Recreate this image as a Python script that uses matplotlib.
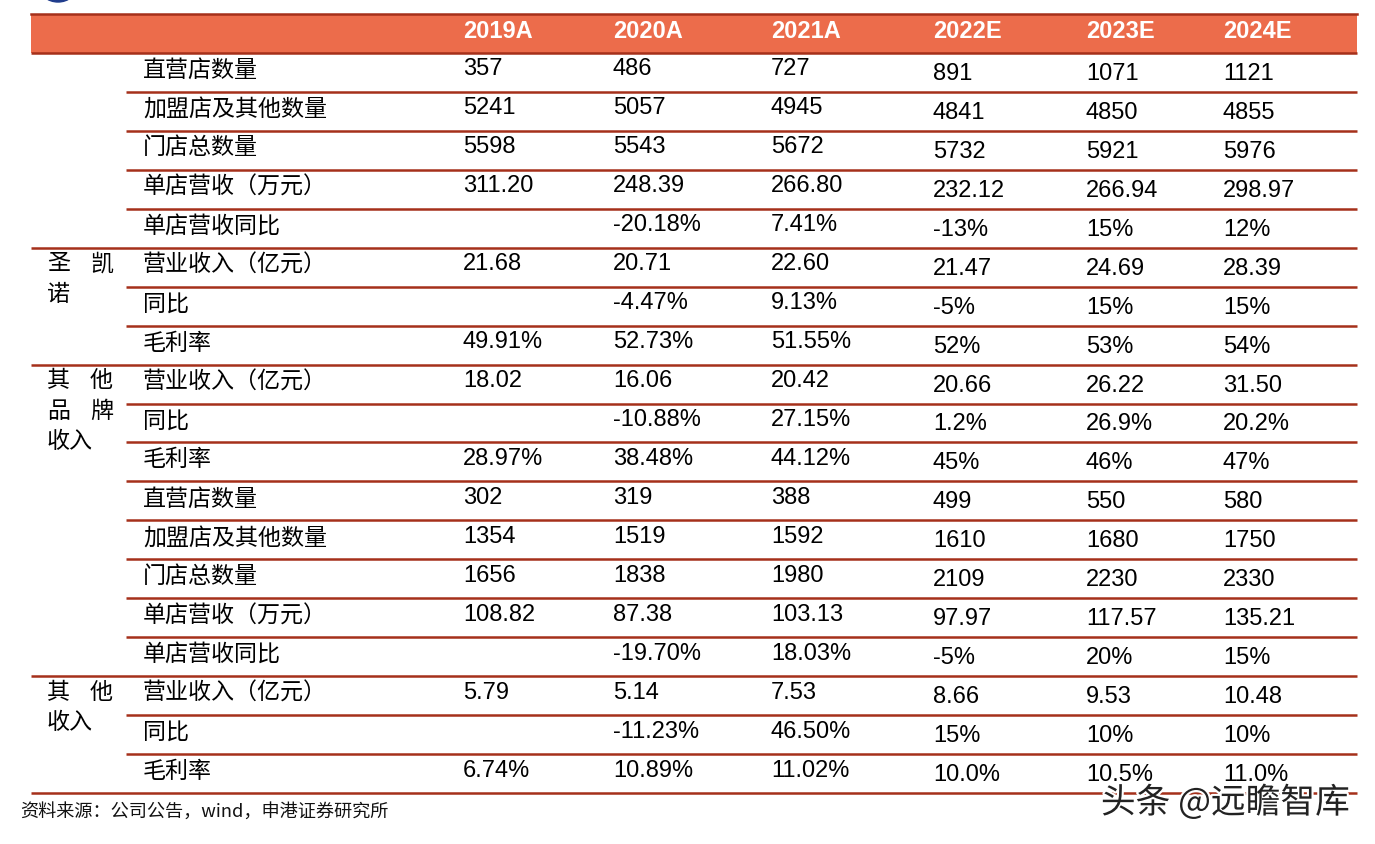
import matplotlib.pyplot as plt
from matplotlib.patches import Rectangle, Ellipse
import matplotlib.patheffects as pe

plt.rcParams['font.family'] = ['Liberation Sans', 'Noto Sans CJK SC', 'DejaVu Sans']

years = ['2019A', '2020A', '2021A', '2022E', '2023E', '2024E']

row_labels = ['直营店数量', '加盟店及其他数量', '门店总数量', '单店营收（万元）', '单店营收同比',
              '营业收入（亿元）', '同比', '毛利率',
              '营业收入（亿元）', '同比', '毛利率', '直营店数量', '加盟店及其他数量',
              '门店总数量', '单店营收（万元）', '单店营收同比',
              '营业收入（亿元）', '同比', '毛利率']

# group label lines (text per line) and the row where each group starts
group_labels = [[], [('圣', '凯'), ('诺',)], [('其', '他'), ('品', '牌'), ('收入',)], [('其', '他'), ('收入',)]]
group_start = [0, 5, 8, 16]

brand_main = [['357', '486', '727', '891', '1071', '1121'],
              ['5241', '5057', '4945', '4841', '4850', '4855'],
              ['5598', '5543', '5672', '5732', '5921', '5976'],
              ['311.20', '248.39', '266.80', '232.12', '266.94', '298.97'],
              ['', '-20.18%', '7.41%', '-13%', '15%', '12%']]
shengkainuo = [['21.68', '20.71', '22.60', '21.47', '24.69', '28.39'],
               ['', '-4.47%', '9.13%', '-5%', '15%', '15%'],
               ['49.91%', '52.73%', '51.55%', '52%', '53%', '54%']]
other_brands = [['18.02', '16.06', '20.42', '20.66', '26.22', '31.50'],
                ['', '-10.88%', '27.15%', '1.2%', '26.9%', '20.2%'],
                ['28.97%', '38.48%', '44.12%', '45%', '46%', '47%'],
                ['302', '319', '388', '499', '550', '580'],
                ['1354', '1519', '1592', '1610', '1680', '1750'],
                ['1656', '1838', '1980', '2109', '2230', '2330'],
                ['108.82', '87.38', '103.13', '97.97', '117.57', '135.21'],
                ['', '-19.70%', '18.03%', '-5%', '20%', '15%']]
other_income = [['5.79', '5.14', '7.53', '8.66', '9.53', '10.48'],
                ['', '-11.23%', '46.50%', '15%', '10%', '10%'],
                ['6.74%', '10.89%', '11.02%', '10.0%', '10.5%', '11.0%']]

values = brand_main + shengkainuo + other_brands + other_income

HEAD = '#EC6C4B'
LINE = '#A5301A'
CJK = ['Noto Sans CJK SC', 'DejaVu Sans']

fig = plt.figure(figsize=(13.75, 8.44), dpi=100)
ax = fig.add_axes([0, 0, 1, 1])
ax.set_xlim(0, 1375)
ax.set_ylim(844, 0)
ax.axis('off')

x_left, x_inner, x_right = 31, 126, 1357
head_top, head_bot = 14, 53
row_h = (793 - head_bot) / len(row_labels)
col_x = [463, 613, 771, 933, 1086, 1223]

# logo piece peeking at the top
ax.add_patch(Ellipse((58, -14), 38, 32, color='#1F3C8C', zorder=1))

# header band
ax.add_patch(Rectangle((x_left, head_top), x_right - x_left, head_bot - head_top, color=HEAD, lw=0))
ax.plot([x_left, x_right], [head_top, head_top], color=LINE, lw=1.8)
for x, y in zip(col_x, years):
    ax.text(x, 31, y, color='white', fontsize=17, fontweight='bold', ha='left', va='center')

# row lines
full_rows = set(group_start) | {len(row_labels)}
for i in range(len(row_labels) + 1):
    y = head_bot + i * row_h
    x0 = x_left if i in full_rows else x_inner
    ax.plot([x0, x_right], [y, y], color=LINE, lw=1.8, solid_capstyle='butt')

# row labels and values
for i, (lab, vals) in enumerate(zip(row_labels, values)):
    yc = head_bot + (i + 0.5) * row_h
    ax.text(143, yc - 2, lab, fontsize=16.6, family=CJK, ha='left', va='center')
    for j, v in enumerate(vals):
        dy = -3 if j < 3 else 1.5
        ax.text(col_x[j], yc + dy, v, fontsize=17, ha='left', va='center', zorder=4)

# group labels on the left
for lines, start in zip(group_labels, group_start):
    y0 = head_bot + start * row_h + 16
    for k, parts in enumerate(lines):
        y = y0 + k * 30.5
        ax.text(47, y, parts[0], fontsize=16.6, family=CJK, ha='left', va='center')
        if len(parts) > 1:
            ax.text(113, y, parts[1], fontsize=16.6, family=CJK, ha='right', va='center')

# source note
ax.text(20, 812, '资料来源：公司公告，wind，申港证券研究所', fontsize=13.1, style='italic',
        family=CJK, ha='left', va='center', color='#111111')

# watermark
ax.text(1350, 803, '头条 @远瞻智库', fontsize=25, family=CJK,
        ha='right', va='center', color='#222222', zorder=3,
        path_effects=[pe.withStroke(linewidth=3, foreground='white')])

plt.savefig('out.png', dpi=100)
